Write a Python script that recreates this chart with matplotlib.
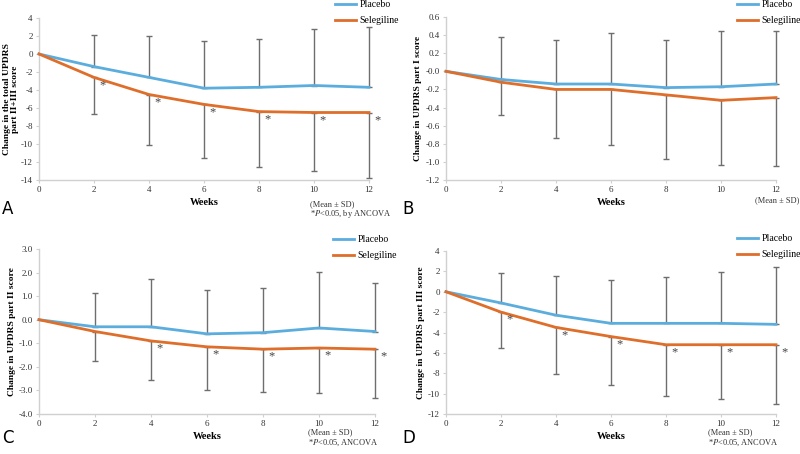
import numpy as np
import matplotlib
matplotlib.use("Agg")
import matplotlib.pyplot as plt

plt.rcParams['font.family'] = ['Liberation Serif', 'DejaVu Serif']
plt.rcParams['mathtext.fontset'] = 'stix'

weeks = [0, 2, 4, 6, 8, 10, 12]

# panel A: total UPDRS part II+III
a_placebo = [0, -1.4, -2.6, -3.8, -3.7, -3.5, -3.7]
a_placebo_top = [0, 2.1, 2.0, 1.4, 1.7, 2.8, 3.0]
a_seleg = [0, -2.6, -4.5, -5.6, -6.4, -6.5, -6.5]
a_seleg_bot = [0, -6.7, -10.1, -11.6, -12.5, -13.0, -13.8]
a_star = [2, 4, 6, 8, 10, 12]

# panel B: part I
b_placebo = [0, -0.09, -0.14, -0.14, -0.18, -0.17, -0.14]
b_placebo_top = [0, 0.38, 0.35, 0.42, 0.35, 0.44, 0.45]
b_seleg = [0, -0.12, -0.20, -0.20, -0.26, -0.32, -0.29]
b_seleg_bot = [0, -0.48, -0.74, -0.81, -0.97, -1.03, -1.05]
b_star = []

# panel C: part II
c_placebo = [0, -0.3, -0.3, -0.6, -0.55, -0.35, -0.5]
c_placebo_top = [0, 1.13, 1.72, 1.27, 1.33, 2.04, 1.57]
c_seleg = [0, -0.5, -0.9, -1.15, -1.25, -1.2, -1.25]
c_seleg_bot = [0, -1.75, -2.57, -3.0, -3.07, -3.12, -3.33]
c_star = [4, 6, 8, 10, 12]

# panel D: part III
d_placebo = [0, -1.1, -2.3, -3.1, -3.1, -3.1, -3.2]
d_placebo_top = [0, 1.8, 1.5, 1.2, 1.4, 1.9, 2.4]
d_seleg = [0, -2.0, -3.5, -4.4, -5.2, -5.2, -5.2]
d_seleg_bot = [0, -5.5, -8.1, -9.2, -10.2, -10.5, -11.0]
d_star = [2, 4, 6, 8, 10, 12]

BLUE = '#5badde'
ORANGE = '#de6e2a'
GREY = '#6e6e6e'
W, H = 800, 454

fig = plt.figure(figsize=(8, 4.54), dpi=100)


def px_axes(x0, x1, y0, y1):
    return fig.add_axes([x0 / W, 1 - y1 / H, (x1 - x0) / W, (y1 - y0) / H])


def panel(ax, pl, pl_top, se, se_bot, stars, yticks, fmt, ylabel, lab_right):
    x = np.array(weeks[1:])
    pl = np.array(pl)
    se = np.array(se)
    up = np.array(pl_top)[1:] - pl[1:]
    dn = se[1:] - np.array(se_bot)[1:]
    for y, err in [(pl[1:], [np.zeros_like(up), up]), (se[1:], [dn, np.zeros_like(dn)])]:
        eb = ax.errorbar(x, y, yerr=err, fmt='none', ecolor=GREY, elinewidth=1.0,
                         capsize=2.2, capthick=1.0, zorder=1)
        for art in eb.get_children():
            art.set_clip_on(False)
    ax.plot(weeks, pl, color=BLUE, lw=2.0, label='Placebo', zorder=3, clip_on=False)
    ax.plot(weeks, se, color=ORANGE, lw=2.0, label='Selegiline', zorder=3, clip_on=False)
    for w in stars:
        ax.annotate('*', (w, se[weeks.index(w)]), xytext=(6, -5.5),
                    textcoords='offset points', ha='center', va='center',
                    fontsize=9, color='#444444')
    ax.set_xlim(0, 12)
    ax.set_ylim(yticks[0], yticks[-1])
    ax.set_xticks(weeks)
    ax.set_yticks(yticks)
    ax.set_yticklabels([fmt.format(v) for v in yticks])
    for s in ['top', 'right']:
        ax.spines[s].set_visible(False)
    for s in ['left', 'bottom']:
        ax.spines[s].set_color('#d0d0d0')
        ax.spines[s].set_linewidth(1.0)
    ax.tick_params(axis='both', labelsize=6.5, colors='#d0d0d0', labelcolor='#333333',
                   length=2.5, width=0.8, pad=2)
    ax.set_xlabel('Weeks', fontsize=7.5, fontweight='bold', labelpad=3)
    ax.set_ylabel(ylabel, fontsize=6.8, fontweight='bold', linespacing=1.05)
    # label coords = right edge of the (rotated) label, in pixels
    bb = ax.get_position()
    ax.yaxis.set_label_coords((lab_right / W - bb.x0) / bb.width, 0.5)


axA = px_axes(39, 369, 18, 180)
panel(axA, a_placebo, a_placebo_top, a_seleg, a_seleg_bot, a_star,
      np.arange(-14, 5, 2), '{:g}', 'Change in the total UPDRS\npart II+III score', 19)
axB = px_axes(446, 776, 17, 180)
panel(axB, b_placebo, b_placebo_top, b_seleg, b_seleg_bot, b_star,
      np.round(np.arange(-1.2, 0.61, 0.2), 1), '{:.1f}', 'Change in UPDRS part I score', 422)
axC = px_axes(39, 375, 249, 414)
panel(axC, c_placebo, c_placebo_top, c_seleg, c_seleg_bot, c_star,
      np.arange(-4.0, 3.01, 1.0), '{:.1f}', 'Change in UPDRS part II score', 16)
axD = px_axes(446, 776, 251, 414)
panel(axD, d_placebo, d_placebo_top, d_seleg, d_seleg_bot, d_star,
      np.arange(-12, 5, 2), '{:g}', 'Change in UPDRS part III score', 425)

# legends
for ax, lx, ly in [(axA, 335, 0), (axB, 737, 0), (axC, 333, 235), (axD, 737, 234)]:
    ax.legend(loc='upper left', bbox_to_anchor=(lx / W, 1 - ly / H),
              bbox_transform=fig.transFigure, frameon=False, fontsize=7,
              handlelength=2.2, handletextpad=0.3, labelspacing=0.75,
              borderaxespad=0, borderpad=0)

# footnotes
fn = dict(fontsize=6, color='#333333', va='center')
fig.text(310 / W, 1 - 204 / H, '(Mean ± SD)', **fn)
fig.text(310 / W, 1 - 214 / H, r'*$\it{P}$<0.05, by ANCOVA', **fn)
fig.text(755 / W, 1 - 200 / H, '(Mean ± SD)', **fn)
fig.text(308 / W, 1 - 432 / H, '(Mean ± SD)', **fn)
fig.text(308 / W, 1 - 443 / H, r'*$\it{P}$<0.05, ANCOVA', **fn)
fig.text(708 / W, 1 - 432 / H, '(Mean ± SD)', **fn)
fig.text(708 / W, 1 - 443 / H, r'*$\it{P}$<0.05, ANCOVA', **fn)

# panel letters
lt = dict(fontsize=12, family='DejaVu Sans', va='center', ha='left')
fig.text(2 / W, 1 - 209 / H, 'A', **lt)
fig.text(402 / W, 1 - 209 / H, 'B', **lt)
fig.text(2 / W, 1 - 438 / H, 'C', **lt)
fig.text(402 / W, 1 - 438 / H, 'D', **lt)

fig.savefig('out.png', dpi=100)
